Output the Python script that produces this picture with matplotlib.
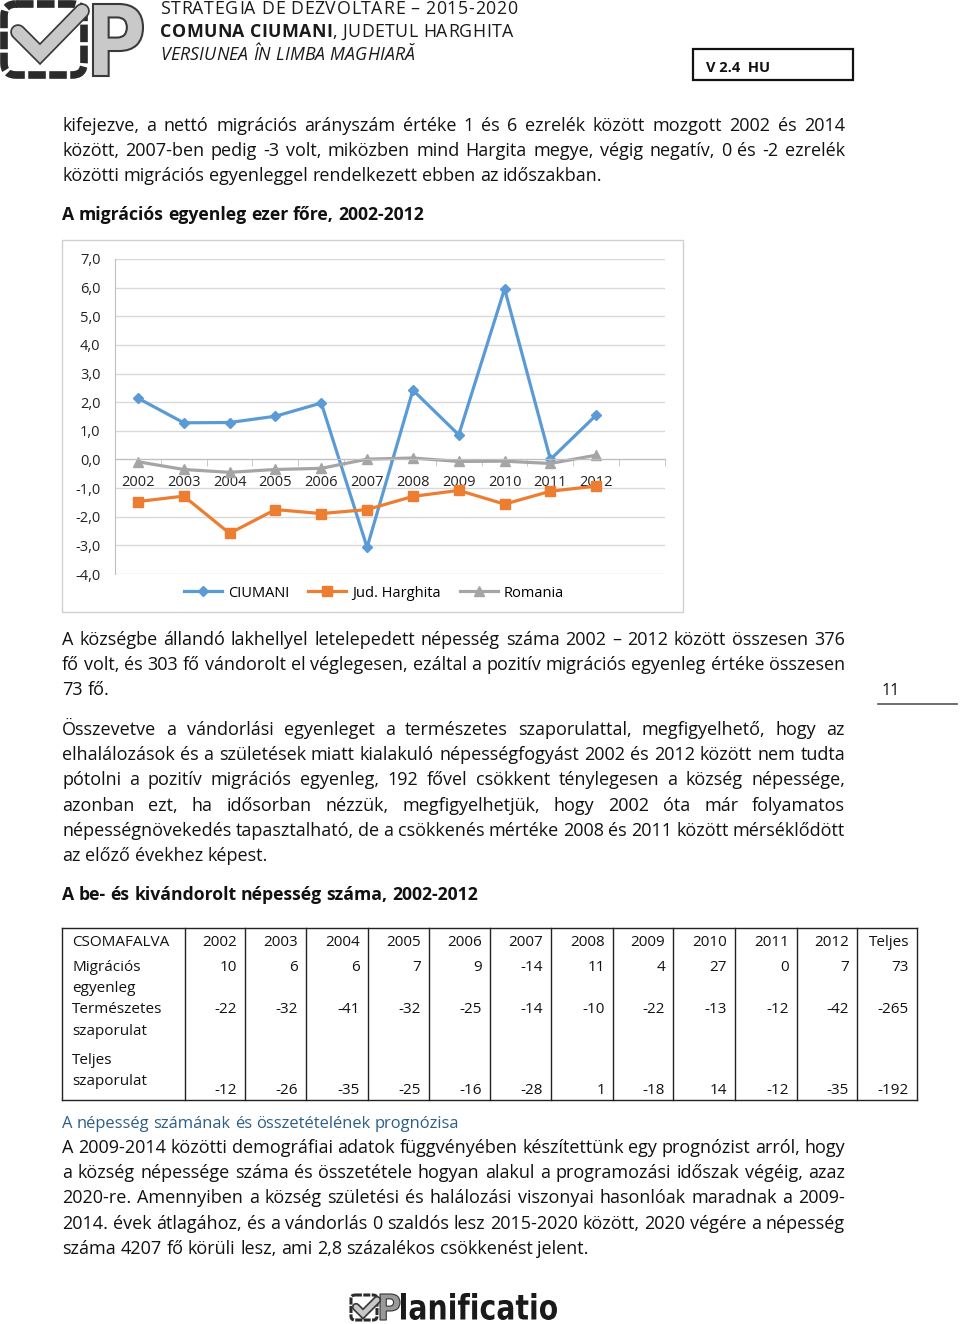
import matplotlib
matplotlib.use("Agg")
import matplotlib.pyplot as plt
import matplotlib.patheffects as pe
from matplotlib.patches import Rectangle, FancyBboxPatch, PathPatch
from matplotlib.textpath import TextPath
from matplotlib.font_manager import FontProperties
from matplotlib.transforms import Affine2D
from matplotlib.lines import Line2D

# chart data (net migration per 1000 inhabitants)
years = ["2002", "2003", "2004", "2005", "2006", "2007", "2008", "2009", "2010", "2011", "2012"]
ciumani = [2.14, 1.28, 1.29, 1.51, 1.97, -3.07, 2.42, 0.86, 5.96, 0.0, 1.55]
harghita = [-1.47, -1.28, -2.58, -1.75, -1.89, -1.75, -1.29, -1.08, -1.56, -1.11, -0.93]
romania = [-0.08, -0.35, -0.45, -0.35, -0.31, 0.01, 0.05, -0.07, -0.06, -0.14, 0.15]
y_ticks = [-4, -3, -2, -1, 0, 1, 2, 3, 4, 5, 6, 7]
series_names = ["CIUMANI", "Jud. Harghita", "Romania"]

# table data
table_cols = years + ["Teljes"]
migracios = [10, 6, 6, 7, 9, -14, 11, 4, 27, 0, 7, 73]
termeszetes = [-22, -32, -41, -32, -25, -14, -10, -22, -13, -12, -42, -265]
teljes = [-12, -26, -35, -25, -16, -28, 1, -18, 14, -12, -35, -192]

para1 = ["kifejezve, a nettó migrációs arányszám értéke 1 és 6 ezrelék között mozgott 2002 és 2014",
         "között, 2007-ben pedig -3 volt, miközben mind Hargita megye, végig negatív, 0 és -2 ezrelék",
         "közötti migrációs egyenleggel rendelkezett ebben az időszakban."]
para2 = ["A községbe állandó lakhellyel letelepedett népesség száma 2002 – 2012 között összesen 376",
         "fő volt, és 303 fő vándorolt el véglegesen, ezáltal a pozitív migrációs egyenleg értéke összesen",
         "73 fő."]
para3 = ["Összevetve a vándorlási egyenleget a természetes szaporulattal, megfigyelhető, hogy az",
         "elhalálozások és a születések miatt kialakuló népességfogyást 2002 és 2012 között nem tudta",
         "pótolni a pozitív migrációs egyenleg, 192 fővel csökkent ténylegesen a község népessége,",
         "azonban ezt, ha idősorban nézzük, megfigyelhetjük, hogy 2002 óta már folyamatos",
         "népességnövekedés tapasztalható, de a csökkenés mértéke 2008 és 2011 között mérséklődött",
         "az előző évekhez képest."]
para4 = ["A 2009-2014 közötti demográfiai adatok függvényében készítettünk egy prognózist arról, hogy",
         "a község népessége száma és összetétele hogyan alakul a programozási időszak végéig, azaz",
         "2020-re. Amennyiben a község születési és halálozási viszonyai hasonlóak maradnak a 2009-",
         "2014. évek átlagához, és a vándorlás 0 szaldós lesz 2015-2020 között, 2020 végére a népesség",
         "száma 4207 fő körüli lesz, ami 2,8 százalékos csökkenést jelent."]

W, H = 960, 1324
FONT = "Open Sans"
BODY = 13.0
TXT = "#111111"

fig = plt.figure(figsize=(W / 100, H / 100), dpi=100)
page = fig.add_axes([0, 0, 1, 1])
page.set_xlim(0, W)
page.set_ylim(H, 0)
page.axis("off")
renderer = fig.canvas.get_renderer()


def width_of(s, **kw):
    t = page.text(0, 0, s, **kw)
    w = t.get_window_extent(renderer).width
    t.remove()
    return w


def put_line(x, y, line, right=None, **kw):
    kw.setdefault("family", FONT)
    kw.setdefault("fontsize", BODY)
    kw.setdefault("color", TXT)
    words = line.split(" ")
    objs = [page.text(x, y, w, va="baseline", ha="left", **kw) for w in words]
    ws = [o.get_window_extent(renderer).width for o in objs]
    sp = width_of("a a", **kw) - width_of("aa", **kw)
    if right is not None and len(words) > 1:
        sp = (right - x - sum(ws)) / (len(words) - 1)
    cx = x
    for o, w in zip(objs, ws):
        o.set_x(cx)
        cx += w + sp
    return cx


def put_spaced(x, y, segments, right):
    # letter-spaced line made of (text, style) segments, stretched to end at `right`
    chars = []
    for s, kw in segments:
        sp = width_of("a a", **kw) - width_of("aa", **kw)
        for ch in s:
            if ch == " ":
                chars.append((None, sp))
            else:
                t = page.text(x, y, ch, va="baseline", ha="left", **kw)
                chars.append((t, t.get_window_extent(renderer).width))
    extra = (right - x - sum(w for _, w in chars)) / (len(chars) - 1)
    cx = x
    for t, w in chars:
        if t is not None:
            t.set_x(cx)
        cx += w + extra


def paragraph(lines, y0, step=25.2, x=62, right=845):
    for i, ln in enumerate(lines):
        last = i == len(lines) - 1
        put_line(x, y0 + i * step, ln, None if last else right)


def path_text(s, box, fc, ec="none", lw=0, weight="bold", family="DejaVu Sans"):
    tp = TextPath((0, 0), s, size=100, prop=FontProperties(family=family, weight=weight))
    ext = tp.get_extents()
    x0, y0, x1, y1 = box
    tr = (Affine2D().translate(-ext.x0, -ext.y1)
          .scale((x1 - x0) / ext.width, -(y1 - y0) / ext.height)
          .translate(x0, y0))
    page.add_patch(PathPatch(tr.transform_path(tp), fc=fc, ec=ec, lw=lw))


def checkbox(x0, y0, x1, y1, lw, check):
    page.add_patch(FancyBboxPatch((x0, y0), x1 - x0, y1 - y0,
                                  boxstyle="round,pad=0,rounding_size=%g" % ((x1 - x0) * 0.15),
                                  fill=False, ec="#2b2b2b", lw=lw, linestyle=(0, (2.3, 0.45))))
    cx, cy = zip(*check)
    page.add_line(Line2D(cx, cy, color="#c8c8c8", lw=lw * 1.6, solid_capstyle="round",
                         solid_joinstyle="miter",
                         path_effects=[pe.Stroke(linewidth=lw * 1.6 + 2.5, foreground="#3a3a3a"),
                                       pe.Normal()]))


# ---- header ----
checkbox(4, 4, 84, 75, 5.5, [(18, 32), (40, 54), (82, 11)])
path_text("P", (93, 4, 143, 76), fc="#c9c9c9", ec="#3a3a3a", lw=1.5)

HEAD = dict(family=FONT, fontsize=12.8, color="#1a1a1a")
HEADB = dict(HEAD, fontweight="bold")
HEADI = dict(HEAD, style="italic")
put_spaced(160, 14, [("STRATEGIA DE DEZVOLTARE – 2015-2020", HEAD)], 517)
put_spaced(160, 37, [("COMUNA CIUMANI", HEADB), (", JUDETUL HARGHITA", HEAD)], 513)
put_spaced(160, 60, [("VERSIUNEA ÎN LIMBA MAGHIARĂ", HEADI)], 415)

page.add_patch(Rectangle((693, 49), 160, 31, fill=False, ec="#111111", lw=1.6))
page.text(706, 72, "V 2.4  HU", family=FONT, fontsize=10.5, fontweight="bold",
          va="baseline", color="#111111")

# ---- body text ----
paragraph(para1, 131)
put_line(62, 220, "A migrációs egyenleg ezer főre, 2002-2012", fontweight="bold", fontsize=12.7)
paragraph(para2, 645)
paragraph(para3, 735)
put_line(62, 900, "A be- és kivándorolt népesség száma, 2002-2012", fontweight="bold", fontsize=12.7)
put_line(62, 1128, "A népesség számának és összetételének prognózisa", color="#2d5f86", fontsize=11.9)
paragraph(para4, 1153)

# page number
page.text(882, 695, "11", family=FONT, fontsize=11.5, va="baseline", color=TXT)
page.plot([878, 957], [704, 704], color="#555555", lw=1.2)

# ---- chart ----
page.add_patch(Rectangle((62, 240), 621, 372, fill=False, ec="#d0d0d0", lw=1))
ax = fig.add_axes([115 / W, 1 - 574 / H, 550 / W, 315 / H])
ax.patch.set_alpha(0)
x = list(range(len(years)))
colors = ["#5b9bd5", "#ed7d31", "#a5a5a5"]
markers = ["D", "s", "^"]
sizes = [5.5, 6.5, 6.5]
for vals, name, c, m, ms in zip([ciumani, harghita, romania], series_names, colors, markers, sizes):
    ax.plot(x, vals, color=c, lw=2.3, marker=m, ms=ms, label=name)
ax.set_xlim(-0.5, 11.5)
ax.set_ylim(-4, 7)
ax.set_yticks(y_ticks, [f"{v:.1f}".replace(".", ",") for v in y_ticks])
ax.set_xticks(x, years)
ax.set_xticks([i - 0.5 for i in range(13)], minor=True)
ax.yaxis.grid(True, color="#d9d9d9", lw=1)
ax.set_axisbelow(True)
for s in ["top", "right"]:
    ax.spines[s].set_visible(False)
ax.spines["bottom"].set_position(("data", 0))
ax.spines["bottom"].set_color("#bfbfbf")
ax.spines["left"].set_color("#bfbfbf")
ax.tick_params(axis="y", length=0, pad=10.5, labelsize=10.5, labelcolor="#222222")
ax.tick_params(axis="x", which="major", length=0, pad=11.5, labelsize=10.5, labelcolor="#222222")
ax.tick_params(axis="x", which="minor", length=5, color="#bfbfbf")
for lab in ax.get_xticklabels() + ax.get_yticklabels():
    lab.set_family(FONT)
ax.legend(loc="center", bbox_to_anchor=(374 / W, 1 - 593 / H), bbox_transform=fig.transFigure,
          ncol=3, frameon=False, prop=FontProperties(family=FONT, size=10.5),
          handlelength=2.6, columnspacing=1.3, handletextpad=0.4)

# ---- table ----
col_edges = [62, 185, 245, 306, 368, 429, 490, 551, 613, 673, 735, 797, 857, 917]
top, bottom = 928, 1100
TAB = dict(family=FONT, fontsize=11.0, color=TXT, va="baseline")
page.plot([62, 917], [top, top], color="#222222", lw=1)
page.plot([62, 917], [bottom, bottom], color="#222222", lw=1)
for xe in col_edges:
    page.plot([xe, xe], [top, bottom], color="#222222", lw=1)

page.text(72, 946, "CSOMAFALVA", **TAB)
for lbl, yy in [("Migrációs", 971), ("egyenleg", 992), ("Természetes", 1013),
                ("szaporulat", 1035), ("Teljes", 1064), ("szaporulat", 1085)]:
    page.text(72, yy, lbl, **TAB)
for i, col in enumerate(table_cols):
    xr = col_edges[i + 2] - 8
    page.text(xr, 946, col, ha="right", **TAB)
    page.text(xr, 971, str(migracios[i]), ha="right", **TAB)
    page.text(xr, 1013, str(termeszetes[i]), ha="right", **TAB)
    page.text(xr, 1094, str(teljes[i]), ha="right", **TAB)

# ---- footer logo ----
checkbox(351, 1295, 377, 1320, 2.2, [(356, 1307), (363, 1314), (377, 1300)])
path_text("P", (380, 1294, 400, 1320), fc="#9a9a9a", ec="#333333", lw=0.8)
path_text("lanificatio", (401, 1293, 557, 1320), fc="#1a1a1a")

fig.savefig("out.png", dpi=100)
